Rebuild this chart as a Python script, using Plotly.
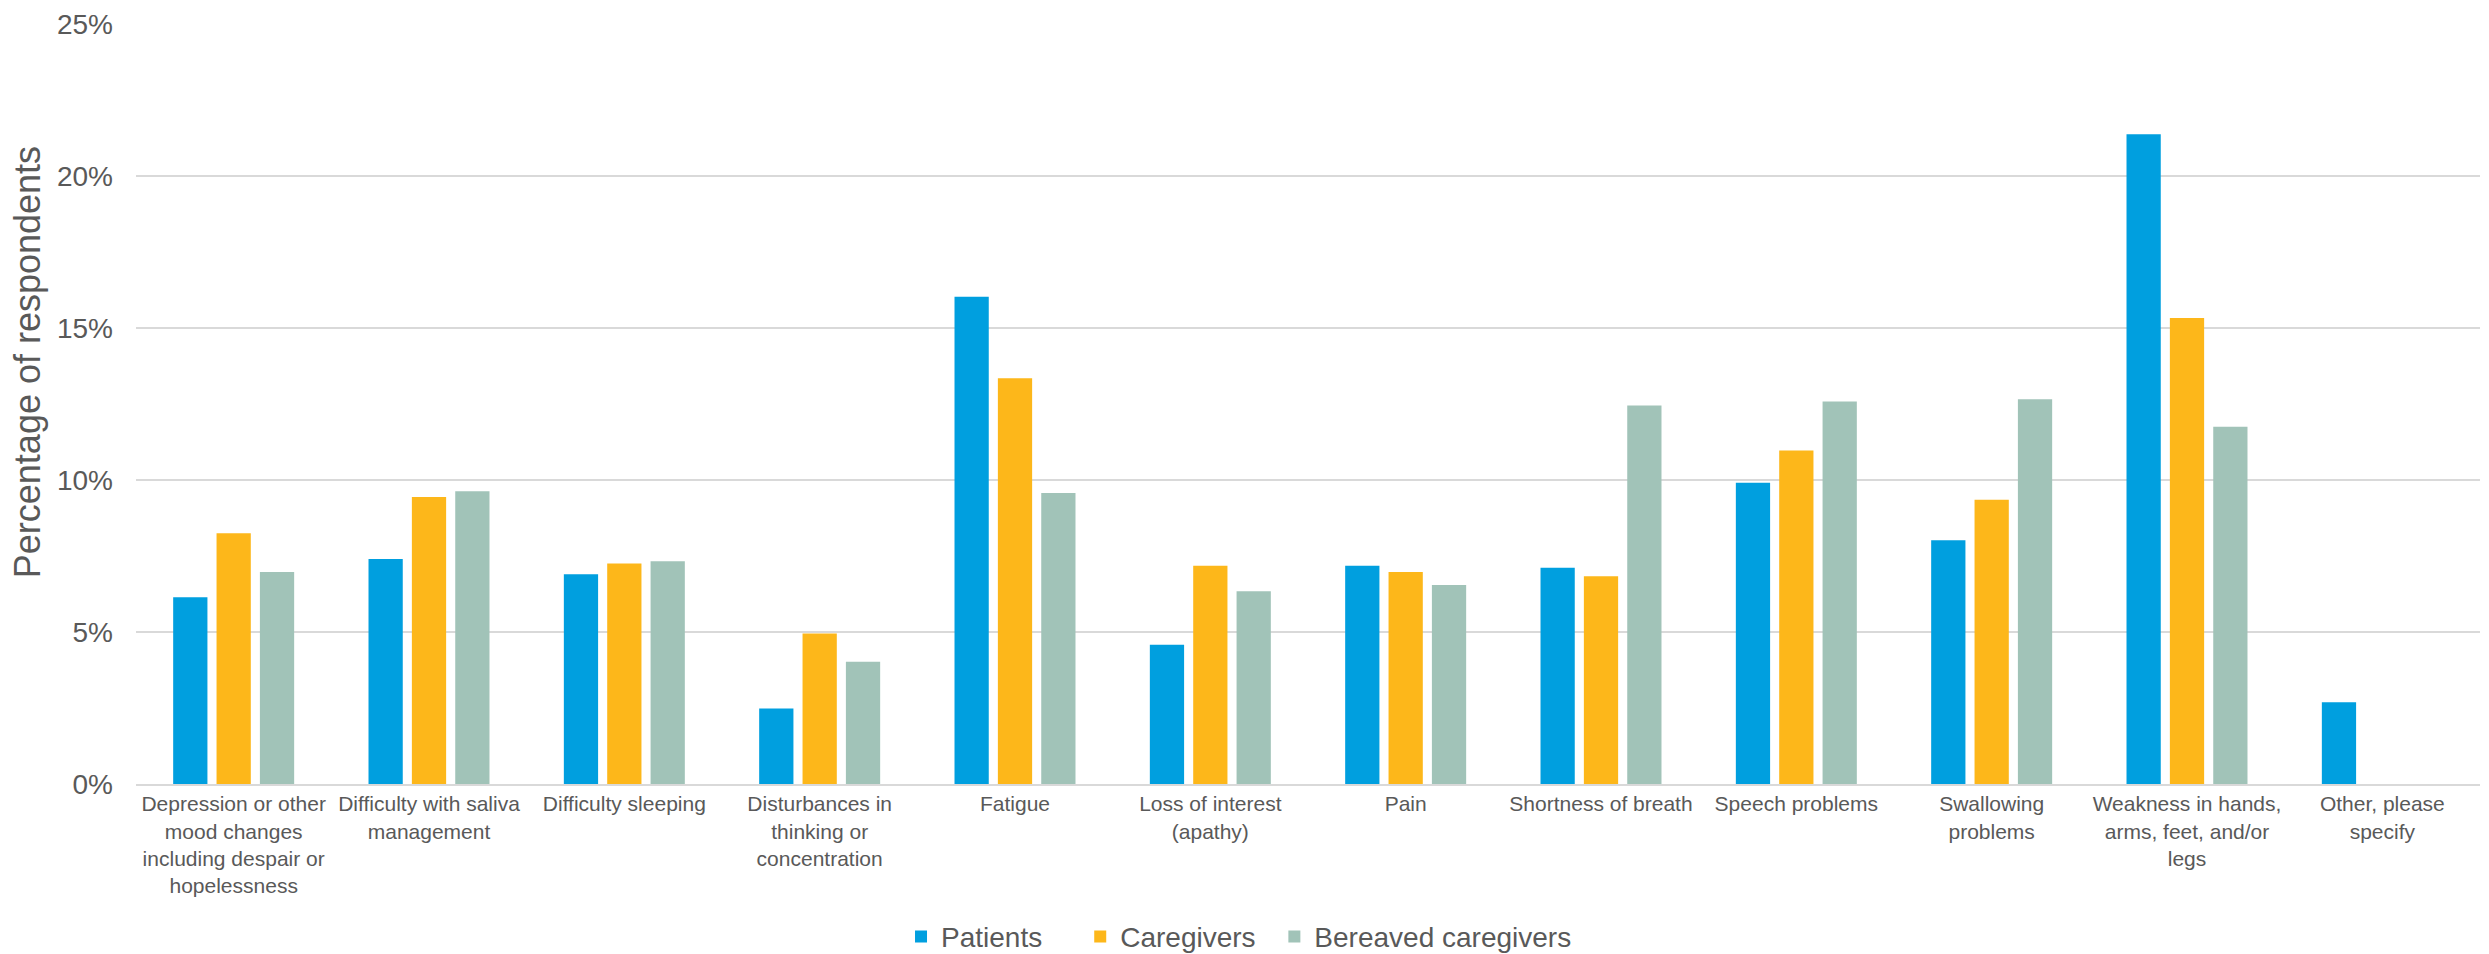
import plotly.graph_objects as go

# Symptom categories and their wrapped axis labels
categories = [
    "Depression or other mood changes including despair or hopelessness",
    "Difficulty with saliva management",
    "Difficulty sleeping",
    "Disturbances in thinking or concentration",
    "Fatigue",
    "Loss of interest (apathy)",
    "Pain",
    "Shortness of breath",
    "Speech problems",
    "Swallowing problems",
    "Weakness in hands, arms, feet, and/or legs",
    "Other, please specify",
]
tick_labels = [
    "Depression or other<br>mood changes<br>including despair or<br>hopelessness",
    "Difficulty with saliva<br>management",
    "Difficulty sleeping",
    "Disturbances in<br>thinking or<br>concentration",
    "Fatigue",
    "Loss of interest<br>(apathy)",
    "Pain",
    "Shortness of breath",
    "Speech problems",
    "Swallowing<br>problems",
    "Weakness in hands,<br>arms, feet, and/or<br>legs",
    "Other, please<br>specify",
]

# Percentage of respondents per group
patients = [6.14, 7.40, 6.90, 2.48, 16.03, 4.58, 7.18, 7.11, 9.91, 8.02, 21.37, 2.69]
caregivers = [8.25, 9.44, 7.25, 4.95, 13.35, 7.18, 6.97, 6.83, 10.97, 9.35, 15.33, None]
bereaved = [6.97, 9.63, 7.33, 4.02, 9.57, 6.34, 6.55, 12.45, 12.58, 12.66, 11.75, None]

y_ticks = [0, 5, 10, 15, 20, 25]
y_tick_labels = ["0%", "5%", "10%", "15%", "20%", "25%"]

series = [
    ("Patients", patients, "#009FDF"),
    ("Caregivers", caregivers, "#FDB71A"),
    ("Bereaved caregivers", bereaved, "#A1C3B8"),
]

text_color = "#595959"
grid_color = "#D9D9D9"

# each series gets its own legend box so the entries can be spaced freely
legend_ids = ["legend", "legend2", "legend3"]
legend_x = [0.362, 0.434, 0.512]

fig = go.Figure()
for (name, values, color), lid in zip(series, legend_ids):
    fig.add_trace(go.Bar(
        name=name,
        x=categories,
        y=values,
        marker=dict(color=color, line=dict(width=0)),
        legend=lid,
    ))

legend_style = dict(
    orientation="h",
    xref="container",
    yref="container",
    xanchor="left",
    y=0.018,
    yanchor="middle",
    font=dict(size=28, color=text_color),
    itemwidth=30,
    bgcolor="rgba(0,0,0,0)",
)

fig.update_layout(
    width=2489,
    height=954,
    barmode="group",
    bargap=0.334,
    bargroupgap=0.21,
    paper_bgcolor="white",
    plot_bgcolor="white",
    font=dict(family="Liberation Sans, Arial, sans-serif", color=text_color),
    margin=dict(l=136, r=9, t=24, b=170, autoexpand=False),
    showlegend=True,
    legend=dict(x=legend_x[0], **legend_style),
    legend2=dict(x=legend_x[1], **legend_style),
    legend3=dict(x=legend_x[2], **legend_style),
    xaxis=dict(
        tickmode="array",
        tickvals=categories,
        ticktext=tick_labels,
        tickangle=0,
        tickfont=dict(size=21, color=text_color),
        showgrid=False,
        showline=True,
        linecolor=grid_color,
        linewidth=2,
        ticks="",
        automargin=False,
    ),
    yaxis=dict(
        range=[0, 25],
        tickmode="array",
        tickvals=y_ticks,
        ticktext=y_tick_labels,
        tickfont=dict(size=28, color=text_color),
        showgrid=True,
        gridcolor=grid_color,
        gridwidth=2,
        zeroline=False,
        showline=False,
        ticks="",
        ticklabelstandoff=22,
        automargin=False,
    ),
    annotations=[
        dict(
            text="Percentage of respondents",
            textangle=-90,
            xref="paper",
            yref="paper",
            x=-0.0465,
            y=0.555,
            xanchor="center",
            yanchor="middle",
            showarrow=False,
            font=dict(size=36, color=text_color),
        )
    ],
)

fig.write_html("out.html")
